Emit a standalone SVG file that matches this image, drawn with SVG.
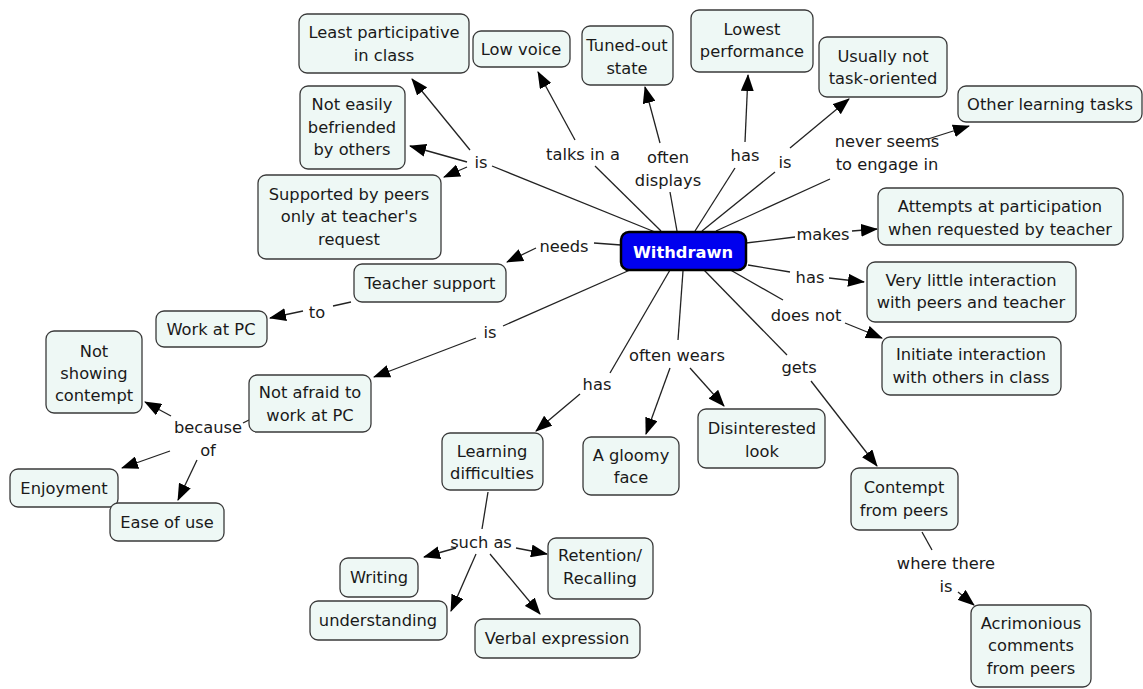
<svg xmlns="http://www.w3.org/2000/svg" width="1143" height="689" viewBox="0 0 1143 689">
<style>
.n rect{fill:#eef8f5;stroke:#3a3a3a;stroke-width:1.3}
text{font-family:"DejaVu Sans",Verdana,sans-serif;font-size:16.3px;fill:#1a1a1a;text-anchor:middle}
.c line{stroke:#222;stroke-width:1.3}
.c line.a{marker-end:url(#ah)}
#withdrawn rect{fill:#0000ee;stroke:#000;stroke-width:2.5}
#withdrawn text{fill:#fff;font-weight:bold}
</style>
<defs>
<marker id="ah" markerUnits="userSpaceOnUse" markerWidth="17" markerHeight="13" refX="16" refY="6.5" orient="auto"><path d="M0,0 L17,6.5 L0,13 z" fill="#000"/></marker>
</defs>
<rect width="1143" height="689" fill="#fff"/>
<g class="c">
<line x1="655" y1="232" x2="492" y2="166"/>
<line class="a" x1="470" y1="150" x2="412" y2="79"/>
<line class="a" x1="467" y1="162" x2="410" y2="146"/>
<line class="a" x1="467" y1="167" x2="444" y2="177"/>
<line x1="661" y1="231" x2="595" y2="166"/>
<line class="a" x1="575" y1="140" x2="538" y2="72"/>
<line x1="677" y1="231" x2="670" y2="192"/>
<line class="a" x1="660" y1="143" x2="645" y2="87"/>
<line x1="695" y1="231" x2="735" y2="168"/>
<line class="a" x1="745" y1="142" x2="748" y2="75"/>
<line x1="702" y1="231" x2="775" y2="172"/>
<line class="a" x1="790" y1="148" x2="849" y2="99"/>
<line x1="716" y1="231" x2="830" y2="179"/>
<line class="a" x1="928" y1="139" x2="969" y2="126"/>
<line x1="621" y1="245" x2="594" y2="243"/>
<line class="a" x1="536" y1="248" x2="507" y2="262"/>
<line x1="351" y1="302" x2="333" y2="306"/>
<line class="a" x1="303" y1="311" x2="270" y2="318"/>
<line x1="630" y1="270" x2="503" y2="326"/>
<line class="a" x1="476" y1="338" x2="374" y2="377"/>
<line x1="249" y1="420" x2="243" y2="423"/>
<line class="a" x1="171" y1="416" x2="145" y2="402"/>
<line class="a" x1="170" y1="451" x2="122" y2="468"/>
<line class="a" x1="197" y1="460" x2="178" y2="500"/>
<line x1="670" y1="270" x2="610" y2="373"/>
<line class="a" x1="580" y1="394" x2="536" y2="431"/>
<line x1="683" y1="271" x2="678" y2="340"/>
<line class="a" x1="670" y1="368" x2="646" y2="434"/>
<line class="a" x1="690" y1="368" x2="724" y2="406"/>
<line x1="704" y1="270" x2="787" y2="355"/>
<line class="a" x1="811" y1="381" x2="877" y2="466"/>
<line x1="727" y1="268" x2="783" y2="300"/>
<line class="a" x1="845" y1="323" x2="882" y2="338"/>
<line x1="748" y1="265" x2="790" y2="272"/>
<line class="a" x1="829" y1="278" x2="864" y2="282"/>
<line x1="746" y1="243" x2="795" y2="237"/>
<line class="a" x1="852" y1="231" x2="877" y2="229"/>
<line x1="488" y1="492" x2="482" y2="529"/>
<line class="a" x1="456" y1="548" x2="424" y2="557"/>
<line class="a" x1="476" y1="554" x2="451" y2="611"/>
<line class="a" x1="490" y1="554" x2="540" y2="614"/>
<line class="a" x1="516" y1="548" x2="547" y2="554"/>
<line x1="922" y1="532" x2="932" y2="550"/>
<line class="a" x1="958" y1="592" x2="974" y2="605"/>
</g>
<g id="labels">
<text x="481" y="168">is</text>
<text x="583" y="160">talks in a</text>
<text x="668" y="163">often</text><text x="668" y="186">displays</text>
<text x="745" y="161">has</text>
<text x="785" y="168">is</text>
<text x="887" y="147">never seems</text><text x="887" y="170">to engage in</text>
<text x="564" y="252">needs</text>
<text x="823" y="240">makes</text>
<text x="810" y="283">has</text>
<text x="806" y="321">does not</text>
<text x="799" y="373">gets</text>
<text x="677" y="361">often wears</text>
<text x="597" y="390">has</text>
<text x="490" y="338">is</text>
<text x="317" y="318">to</text>
<text x="208" y="433">because</text><text x="208" y="456">of</text>
<text x="481" y="548">such as</text>
<text x="946" y="569">where there</text><text x="946" y="592">is</text>
</g>
<g id="withdrawn"><rect x="621" y="232" width="125" height="38" rx="8"/><text x="683" y="258">Withdrawn</text></g>
<g id="n1" class="n"><rect x="299" y="14" width="170" height="59" rx="8"/><text x="384" y="38">Least participative</text><text x="384" y="61">in class</text></g>
<g id="n2" class="n"><rect x="473" y="31" width="97" height="36" rx="8"/><text x="521" y="55">Low voice</text></g>
<g id="n3" class="n"><rect x="582" y="26" width="91" height="59" rx="8"/><text x="627" y="51">Tuned-out</text><text x="627" y="74">state</text></g>
<g id="n4" class="n"><rect x="691" y="10" width="122" height="62" rx="8"/><text x="752" y="35">Lowest</text><text x="752" y="57">performance</text></g>
<g id="n5" class="n"><rect x="819" y="37" width="128" height="60" rx="8"/><text x="883" y="62">Usually not</text><text x="883" y="84">task-oriented</text></g>
<g id="n6" class="n"><rect x="958" y="86" width="184" height="36" rx="8"/><text x="1050" y="110">Other learning tasks</text></g>
<g id="n7" class="n"><rect x="878" y="188" width="245" height="57" rx="8"/><text x="1000" y="212">Attempts at participation</text><text x="1000" y="235">when requested by teacher</text></g>
<g id="n8" class="n"><rect x="867" y="262" width="209" height="60" rx="8"/><text x="971" y="286">Very little interaction</text><text x="971" y="308">with peers and teacher</text></g>
<g id="n9" class="n"><rect x="882" y="337" width="179" height="58" rx="8"/><text x="971" y="360">Initiate interaction</text><text x="971" y="383">with others in class</text></g>
<g id="n10" class="n"><rect x="851" y="468" width="107" height="62" rx="8"/><text x="904" y="493">Contempt</text><text x="904" y="516">from peers</text></g>
<g id="n11" class="n"><rect x="971" y="605" width="120" height="82" rx="8"/><text x="1031" y="629">Acrimonious</text><text x="1031" y="651">comments</text><text x="1031" y="674">from peers</text></g>
<g id="n12" class="n"><rect x="698" y="409" width="127" height="59" rx="8"/><text x="762" y="434">Disinterested</text><text x="762" y="457">look</text></g>
<g id="n13" class="n"><rect x="583" y="437" width="96" height="58" rx="8"/><text x="631" y="461">A gloomy</text><text x="631" y="483">face</text></g>
<g id="n14" class="n"><rect x="442" y="433" width="101" height="57" rx="8"/><text x="492" y="457">Learning</text><text x="492" y="479">difficulties</text></g>
<g id="n15" class="n"><rect x="548" y="538" width="105" height="61" rx="8"/><text x="600" y="561">Retention/</text><text x="600" y="584">Recalling</text></g>
<g id="n16" class="n"><rect x="340" y="558" width="78" height="39" rx="8"/><text x="379" y="583">Writing</text></g>
<g id="n17" class="n"><rect x="310" y="601" width="137" height="39" rx="8"/><text x="378" y="626">understanding</text></g>
<g id="n18" class="n"><rect x="475" y="619" width="165" height="39" rx="8"/><text x="557" y="644">Verbal expression</text></g>
<g id="n19" class="n"><rect x="249" y="375" width="122" height="57" rx="8"/><text x="310" y="398">Not afraid to</text><text x="310" y="421">work at PC</text></g>
<g id="n20" class="n"><rect x="156" y="311" width="111" height="36" rx="8"/><text x="211" y="335">Work at PC</text></g>
<g id="n21" class="n"><rect x="354" y="264" width="152" height="38" rx="8"/><text x="430" y="289">Teacher support</text></g>
<g id="n22" class="n"><rect x="46" y="331" width="96" height="82" rx="8"/><text x="94" y="357">Not</text><text x="94" y="379">showing</text><text x="94" y="401">contempt</text></g>
<g id="n23" class="n"><rect x="10" y="469" width="108" height="38" rx="8"/><text x="64" y="494">Enjoyment</text></g>
<g id="n24" class="n"><rect x="110" y="503" width="114" height="38" rx="8"/><text x="167" y="528">Ease of use</text></g>
<g id="n25" class="n"><rect x="258" y="175" width="183" height="84" rx="8"/><text x="349" y="200">Supported by peers</text><text x="349" y="222">only at teacher's</text><text x="349" y="245">request</text></g>
<g id="n26" class="n"><rect x="300" y="86" width="105" height="83" rx="8"/><text x="352" y="110">Not easily</text><text x="352" y="133">befriended</text><text x="352" y="155">by others</text></g>
</svg>
